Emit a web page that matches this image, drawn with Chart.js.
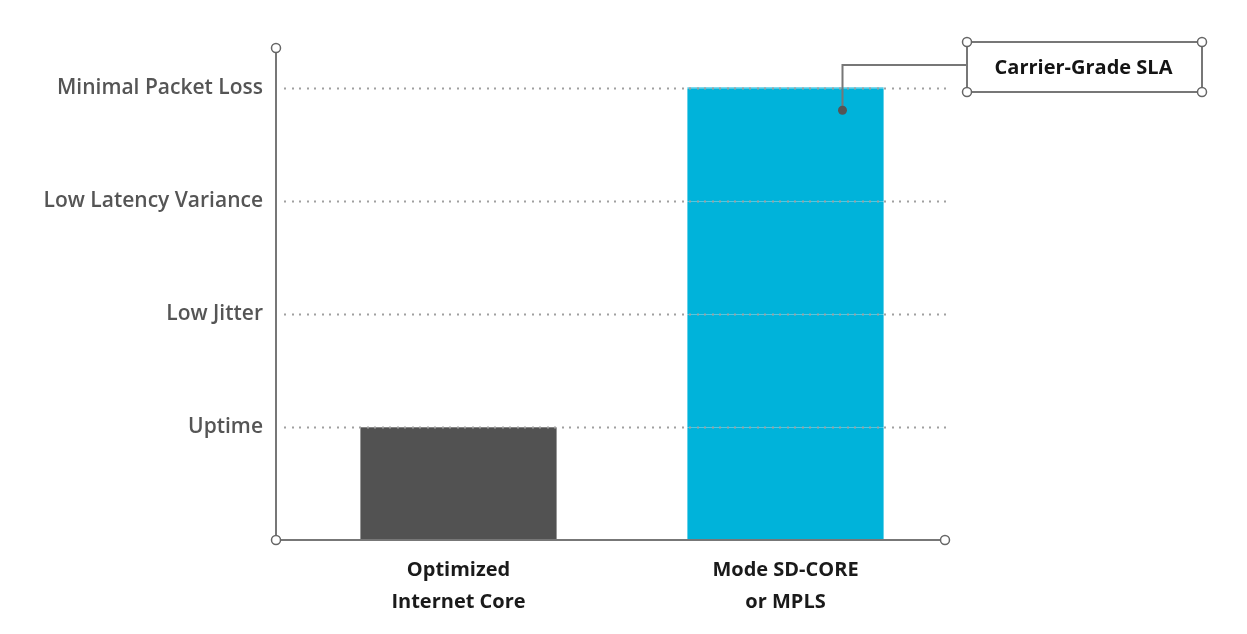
<!DOCTYPE html>
<html>
<head>
<meta charset="utf-8">
<script src="https://cdn.jsdelivr.net/npm/chart.js@4.4.1/dist/chart.umd.min.js"></script>
<style>
  html, body { margin: 0; padding: 0; background: #fff; }
  #wrap { width: 1247px; height: 634px; position: relative; }
</style>
</head>
<body>
<div id="wrap"><canvas id="c" width="1247" height="634"></canvas></div>
<script>
  const categories = [["Optimized", "Internet Core"], ["Mode SD-CORE", "or MPLS"]];
  const values = [1, 4];
  const barColors = ["#525252", "#00b3da"];
  const tickValues = [1, 2, 3, 4];
  const tickLabels = ["Uptime", "Low Jitter", "Low Latency Variance", "Minimal Packet Loss"];
  const calloutText = "Carrier-Grade SLA";
  const calloutValue = 3.8; // where the pin sits on the tall bar

  const FONT = "'Open Sans', 'Noto Sans', sans-serif";

  function ring(ctx, x, y) {
    ctx.beginPath();
    ctx.arc(x, y, 4.5, 0, Math.PI * 2);
    ctx.fillStyle = "#fff";
    ctx.fill();
    ctx.lineWidth = 1.5;
    ctx.strokeStyle = "#666";
    ctx.stroke();
  }

  // axis lines, dotted grid and the callout box
  const decor = {
    id: "decor",
    afterDatasetsDraw(chart) {
      const ctx = chart.ctx;
      const a = chart.chartArea;
      const ys = chart.scales.y;
      const xs = chart.scales.x;
      const axisX = a.left - 19;
      const endX = a.right - 4;

      ctx.save();
      // grid
      for (const v of tickValues) {
        const y = Math.round(ys.getPixelForValue(v)) + 0.5;
        ctx.beginPath();
        ctx.moveTo(axisX + 6, y);
        ctx.lineTo(endX, y);
        ctx.lineWidth = 1;
        ctx.strokeStyle = "rgba(255,255,255,0.3)";
        ctx.stroke();
        ctx.fillStyle = "#a0a0a0";
        for (let x = axisX + 8; x < endX; x += 7.5) {
          ctx.fillRect(Math.round(x), y - 1, 2, 2);
        }
      }

      // axes
      const bottom = ys.getPixelForValue(0);
      ctx.lineWidth = 2;
      ctx.strokeStyle = "#777";
      ctx.beginPath();
      ctx.moveTo(axisX, a.top);
      ctx.lineTo(axisX, bottom);
      ctx.lineTo(endX, bottom);
      ctx.stroke();
      ring(ctx, axisX, a.top);
      ring(ctx, axisX, bottom);
      ring(ctx, endX, bottom);

      // callout
      const bx = 967, by = 42, bw = 235, bh = 50;
      const pinX = xs.getPixelForValue(1) + 57;
      const pinY = ys.getPixelForValue(calloutValue);
      ctx.lineWidth = 2;
      ctx.strokeStyle = "#777";
      ctx.beginPath();
      ctx.moveTo(bx, by + 23);
      ctx.lineTo(pinX, by + 23);
      ctx.lineTo(pinX, pinY);
      ctx.stroke();
      ctx.beginPath();
      ctx.arc(pinX, pinY, 4.5, 0, Math.PI * 2);
      ctx.fillStyle = "#555";
      ctx.fill();

      ctx.strokeRect(bx, by, bw, bh);
      ring(ctx, bx, by);
      ring(ctx, bx + bw, by);
      ring(ctx, bx, by + bh);
      ring(ctx, bx + bw, by + bh);

      ctx.fillStyle = "#141414";
      ctx.font = "700 20px " + FONT;
      ctx.textAlign = "center";
      ctx.textBaseline = "middle";
      ctx.fillText(calloutText, bx + bw / 2 - 1, by + bh / 2 + 1);
      ctx.restore();
    }
  };

  new Chart(document.getElementById("c"), {
    type: "bar",
    data: {
      labels: categories,
      datasets: [{
        data: values,
        backgroundColor: barColors,
        borderWidth: 0,
        barPercentage: 0.6,
        categoryPercentage: 1
      }]
    },
    options: {
      responsive: false,
      animation: false,
      layout: { padding: { top: 48, right: 298, bottom: 0, left: 0 } },
      plugins: { legend: { display: false }, tooltip: { enabled: false } },
      scales: {
        x: {
          grid: { display: false, drawTicks: false },
          border: { display: false },
          afterFit(s) { s.height = 94; },
          ticks: {
            padding: 14,
            color: "#1a1a1a",
            font: { family: FONT, size: 20, weight: "700", lineHeight: 1.6 }
          }
        },
        y: {
          min: 0,
          max: 4.35,
          grid: { display: false, drawTicks: false },
          border: { display: false },
          afterFit(s) { s.width = 295; },
          afterBuildTicks(s) { s.ticks = tickValues.map(v => ({ value: v })); },
          ticks: {
            padding: 32,
            color: "#555",
            font: { family: FONT, size: 21, weight: "600" },
            callback(v) {
              const i = tickValues.indexOf(v);
              return i >= 0 ? tickLabels[i] : "";
            }
          }
        }
      }
    },
    plugins: [decor]
  });
</script>
</body>
</html>
